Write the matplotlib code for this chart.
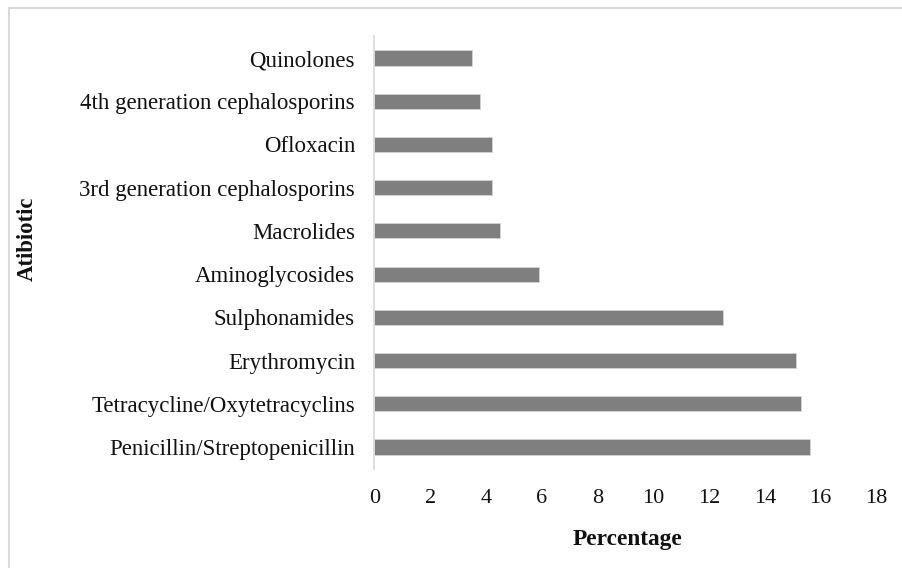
import matplotlib
matplotlib.use("Agg")
import matplotlib.pyplot as plt
from matplotlib.patches import Rectangle

categories = [
    "Penicillin/Streptopenicillin",
    "Tetracycline/Oxytetracyclins",
    "Erythromycin",
    "Sulphonamides",
    "Aminoglycosides",
    "Macrolides",
    "3rd generation cephalosporins",
    "Ofloxacin",
    "4th generation cephalosporins",
    "Quinolones",
]
values = [15.6, 15.3, 15.1, 12.5, 5.9, 4.5, 4.2, 4.2, 3.8, 3.5]
xticks = [0, 2, 4, 6, 8, 10, 12, 14, 16, 18]

plt.rcParams['font.family'] = ['Liberation Serif', 'DejaVu Serif']
W, H = 903, 568
fig = plt.figure(figsize=(W / 100, H / 100), dpi=100)
fig.patch.set_facecolor('white')

# chart border (right and bottom edges fall outside the image)
fig.add_artist(Rectangle((9 / W, -0.2), 1.2, 1.2 - 8 / H, transform=fig.transFigure,
                         fill=False, edgecolor='#d9d9d9', linewidth=1.5))

ax = fig.add_axes([374.5 / W, (H - 468.6) / H, 502 / W, 432.2 / H])
y = list(range(len(categories)))
ax.barh(y, values, height=0.35, color='#7f7f7f', edgecolor='#d9d9d9', linewidth=0.5)
ax.set_xlim(0, 18)
ax.set_ylim(-0.5, len(categories) - 0.5)
ax.set_xticks(xticks)
ax.set_xticklabels([str(t) for t in xticks])
ax.set_yticks(y)
ax.set_yticklabels(categories)
ax.tick_params(axis='x', length=0, labelsize=16, colors='#111111', pad=15)
ax.tick_params(axis='y', length=0, labelsize=16.5, colors='#111111', pad=14)
for s in ['top', 'right', 'bottom']:
    ax.spines[s].set_visible(False)
ax.spines['left'].set_color('#d9d9d9')
ax.spines['left'].set_linewidth(1.2)

fig.text(627.5 / W, 1 - 540 / H, "Percentage", ha='center', va='center',
         fontsize=16.8, fontweight='bold', color='#111111')
fig.text(27 / W, 1 - 239 / H, "Atibiotic", ha='center', va='center',
         rotation=90, fontsize=16.4, fontweight='bold', color='#111111')

fig.savefig("out.png", dpi=100)
